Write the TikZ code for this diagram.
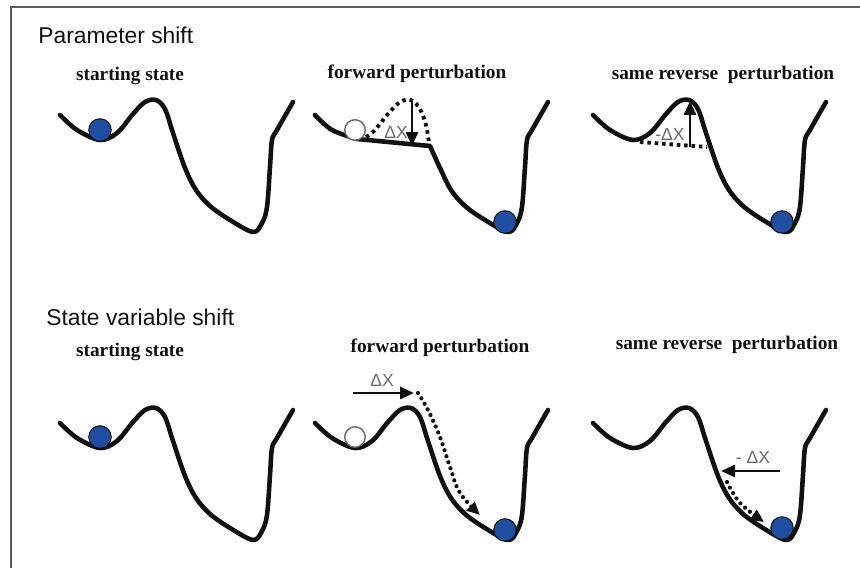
\documentclass[tikz,border=0pt]{standalone}
\usepackage{fontspec}
\setmainfont{Liberation Serif}
\setsansfont{Liberation Sans}
\usetikzlibrary{arrows.meta}
\definecolor{ballblue}{HTML}{1F4FA3}
\definecolor{frameline}{HTML}{5A5A5A}
\definecolor{dxgray}{HTML}{6A6A6A}
\definecolor{ink}{HTML}{111111}
\tikzset{
  % ---- landscapes ------------------------------------------------
  well/.style       = {draw=ink, line width=2.6pt, line cap=round,
                       line join=round},
  oldwell/.style    = {draw=ink, line width=2.2pt,
                       dash pattern=on 2pt off 2.2pt},
  ball/.style       = {circle, draw=ink, line width=.6pt, fill=ballblue,
                       inner sep=0pt, minimum size=4.5mm},
  oldball/.style    = {circle, draw=dxgray, line width=.8pt, fill=white,
                       inner sep=0pt, minimum size=4.1mm},
  % ---- shifts ----------------------------------------------------
  shiftarr/.style   = {draw=ink, line width=1.7pt,
                       -{Triangle[length=2.8mm, width=2.4mm]}},
  rollarr/.style    = {draw=ink, line width=2.4pt, line cap=round,
                       dash pattern=on 0pt off 3.6pt,
                       -{Triangle[length=2.6mm, width=2.3mm]}},
  dxlab/.style      = {font=\sffamily\fontsize{10}{11}\selectfont,
                       text=dxgray, inner sep=1pt},
  % ---- texts -----------------------------------------------------
  panel/.style      = {font=\bfseries\fontsize{11}{13}\selectfont,
                       text=ink, inner sep=1pt},
  rowtag/.style     = {font=\sffamily\fontsize{13}{15}\selectfont,
                       text=ink, anchor=west, inner sep=0pt},
}
\newcommand\wellcurve[2]{%
  \draw[well, shift={(#1,#2)}] plot[smooth, tension=.55] coordinates
    {(60,115) (77,130) (100,140) (117,133) (133,114) (145,102) (156,100)
     (165,109) (173,133) (185,168) (196,190) (210,206) (230,220) (253,232)
     (262,223) (267,207) (270,167) (272,140) (277,130) (293,102)};}

\begin{document}
\begin{tikzpicture}[x=0.02cm, y=-0.02cm]
  \useasboundingbox (0,0) rectangle (860,568);
  \draw[frameline, line width=1.1pt] (11,568) -- (11,7) -- (860,7);
  % ---- row tags ----
  \node[rowtag] (tagpar) at (38,35) {Parameter shift};
  \node[rowtag] (tagsv) at (46,317) {State variable shift};
  % ---- panel titles ----
  \node[panel] (t1) at (130,76) {starting state};
  \node[panel] (t2) at (417,74) {forward perturbation};
  \node[panel] (t3) at (723,75) {same reverse\ \ perturbation};
  \node[panel] (t4) at (130,352) {starting state};
  \node[panel] (t5) at (440,348) {forward perturbation};
  \node[panel] (t6) at (727,345) {same reverse\ \ perturbation};
  % ---- parameter shift: starting state ----
  \wellcurve{0}{0}
  \node[ball] (b1) at (100,130) {};
  % ---- parameter shift: forward ----
  \draw[oldwell] plot[smooth, tension=.55] coordinates
    {(366,137) (374,131) (388,114) (400,102) (411,100) (420,109) (426,125)
     (429,143)};
  \draw[well] plot[smooth, tension=.55] coordinates
    {(315,115) (332,130) (357,139)} -- plot[smooth, tension=.55] coordinates
    {(430,146) (440,168) (451,190) (465,206) (485,220) (508,232)
     (517,223) (522,207) (525,167) (527,140) (532,130) (548,102)};
  \node[oldball] (o2) at (355,130) {};
  \node[ball] (b2) at (505,222) {};
  \coordinate (p2top) at (412,101);
  \coordinate (p2bot) at (412,146);
  \draw[shiftarr] (p2top) -- (p2bot);
  \node[dxlab] (dx2) at (396,132) {ΔX};
  % ---- parameter shift: reverse ----
  \draw[oldwell] (640,142) -- (707,147);
  \wellcurve{533}{0}
  \node[ball] (b3) at (782,222) {};
  \coordinate (p3bot) at (690,147);
  \coordinate (p3top) at (690,101);
  \draw[shiftarr] (p3bot) -- (p3top);
  \node[dxlab] (dx3) at (670,134) {-ΔX};
  % ---- state variable shift: starting state ----
  \wellcurve{0}{308}
  \node[ball] (b4) at (100,437) {};
  % ---- state variable shift: forward ----
  \wellcurve{255}{308}
  \node[oldball] (o5) at (355,437) {};
  \node[ball] (b5) at (505,530) {};
  \coordinate (s5from) at (353,393);
  \coordinate (s5to) at (414,393);
  \draw[shiftarr] (s5from) -- (s5to);
  \node[dxlab] (dx5) at (382,380) {ΔX};
  \coordinate (r5from) at (418,393);
  \coordinate (r5to) at (480,515);
  \draw[rollarr] plot[smooth, tension=.6] coordinates
    {(r5from) (428,410) (440,437) (450,467) (460,493) (r5to)};
  % ---- state variable shift: reverse ----
  \wellcurve{533}{308}
  \node[ball] (b6) at (782,528) {};
  \coordinate (s6from) at (780,471);
  \coordinate (s6to) at (721,471);
  \draw[shiftarr] (s6from) -- (s6to);
  \node[dxlab] (dx6) at (753,457) {- ΔX};
  \coordinate (r6from) at (727,482);
  \coordinate (r6to) at (764,522);
  \draw[rollarr] plot[smooth, tension=.6] coordinates
    {(r6from) (740,503) (r6to)};
\end{tikzpicture}
\end{document}
